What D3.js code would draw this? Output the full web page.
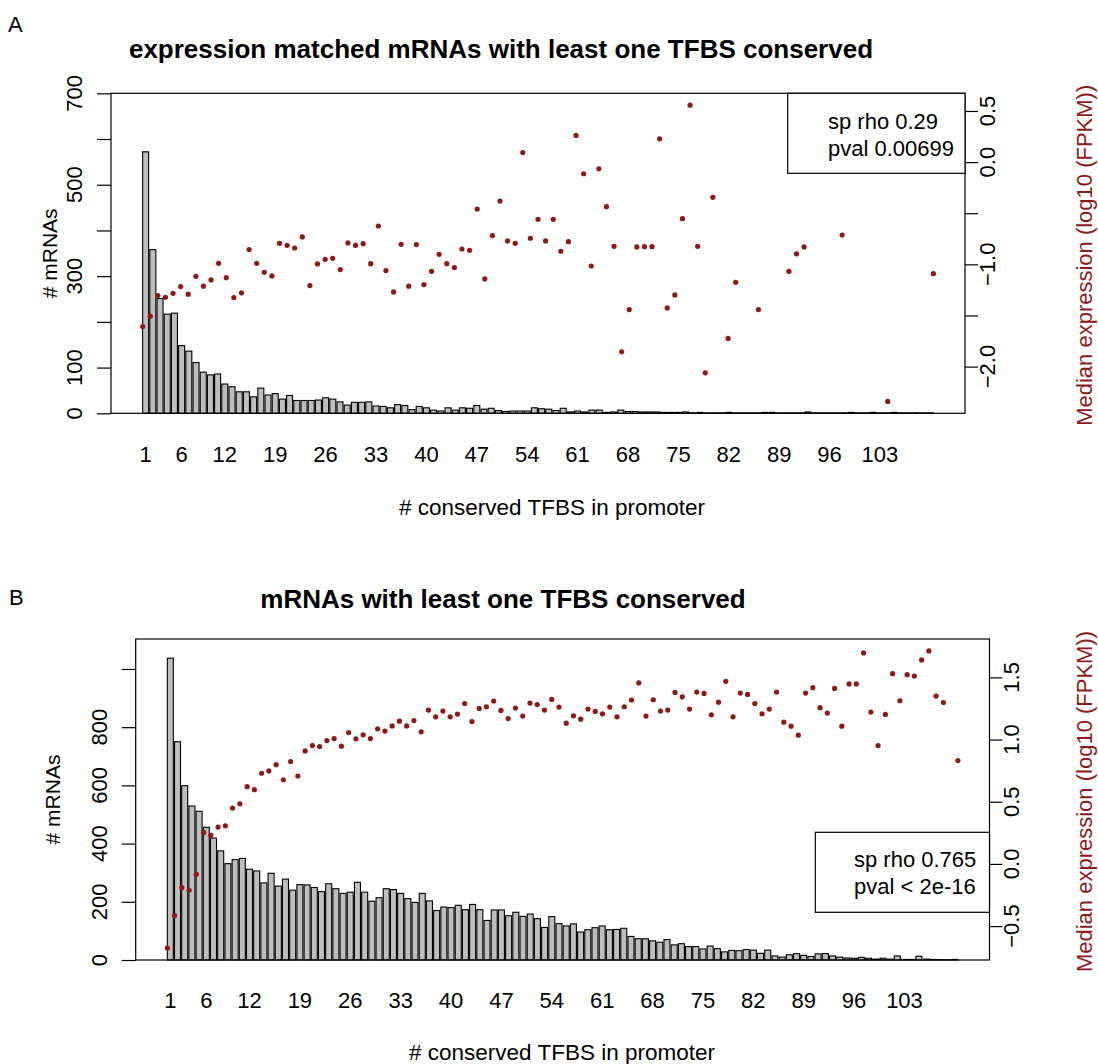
<!DOCTYPE html>
<html><head><meta charset="utf-8">
<script src="https://cdn.jsdelivr.net/npm/d3@7"></script>
<style>
body{margin:0;background:#fff}
text{font-family:"Liberation Sans",Arial,Helvetica,sans-serif;fill:#000}
</style>
</head><body>
<svg id="c" width="1098" height="1064"></svg>
<script>
// ---------- data ----------
const categories = d3.range(1, 111);            // # conserved TFBS in promoter (bars)
const xTickLabels = [1, 6, 12, 19, 26, 33, 40, 47, 54, 61, 68, 75, 82, 89, 96, 103];

const countsA = [
  572, 358, 251, 217, 219, 148, 136, 111, 90, 84,
  86, 64, 58, 47, 47, 36, 55, 40, 43, 31,
  39, 28, 28, 28, 29, 34, 31, 25, 18, 24,
  24, 25, 16, 15, 12, 19, 17, 8, 15, 12,
  7, 5, 12, 7, 12, 11, 17, 9, 11, 6,
  4, 5, 5, 5, 12, 10, 9, 6, 11, 3,
  5, 3, 7, 7, 2, 3, 7, 4, 4, 3,
  3, 3, 2, 2, 2, 3, 1, 2, 1, 1,
  1, 2, 1, 1, 1, 1, 2, 2, 1, 1,
  1, 1, 3, 1, 1, 1, 1, 1, 2, 1,
  1, 2, 1, 1, 2, 1, 1, 1, 1, 1
];
const exprA = [
  -1.608, -1.507, -1.305, -1.322, -1.283, -1.217, -1.292, -1.117, -1.214, -1.152,
  -0.990, -1.130, -1.325, -1.279, -0.856, -0.990, -1.078, -1.113, -0.794, -0.814,
  -0.840, -0.732, -1.208, -0.996, -0.951, -0.941, -1.051, -0.791, -0.814, -0.798,
  -0.993, -0.625, -1.061, -1.270, -0.804, -1.214, -0.807, -1.198, -1.068, -0.902,
  -0.993, -1.032, -0.850, -0.863, -0.459, -1.143, -0.719, -0.381, -0.771, -0.794,
  0.094, -0.745, -0.560, -0.771, -0.560, -0.872, -0.778, 0.261, -0.114, -1.016,
  -0.065, -0.436, -0.824, -1.855, -1.442, -0.830, -0.827, -0.827, 0.228, -1.426,
  -1.299, -0.553, 0.557, -0.824, -2.061, -0.345, null, -1.725, -1.175, null,
  null, -1.442, null, null, null, -1.068, -0.898, -0.830, null, null,
  null, null, -0.713, null, null, null, null, null, -2.341, null,
  null, -0.075, null, null, -1.091
];

const countsB = [
  1037, 750, 599, 529, 511, 456, 419, 375, 331, 345,
  349, 312, 306, 265, 298, 254, 278, 240, 259, 258,
  249, 235, 262, 245, 229, 233, 267, 233, 202, 214,
  245, 242, 229, 211, 198, 229, 203, 170, 182, 180,
  188, 173, 191, 173, 136, 172, 172, 152, 164, 150,
  158, 142, 112, 149, 125, 117, 124, 96, 104, 111,
  117, 104, 105, 109, 81, 73, 73, 66, 61, 70,
  52, 56, 46, 46, 38, 48, 39, 28, 33, 32,
  36, 34, 23, 34, 14, 10, 18, 22, 16, 12,
  21, 22, 14, 10, 7, 6, 9, 6, 3, 6,
  3, 14, 2, 2, 13, 3, 2, 1, 1, 2
];
const exprB = [
  -0.677, -0.416, -0.190, -0.212, -0.083, 0.253, 0.231, 0.296, 0.306, 0.449,
  0.484, 0.621, 0.597, 0.729, 0.748, 0.798, 0.677, 0.823, 0.707, 0.909,
  0.952, 0.944, 0.992, 1.008, 0.947, 1.056, 1.006, 1.038, 1.008, 1.086,
  1.068, 1.110, 1.148, 1.110, 1.153, 1.062, 1.237, 1.183, 1.229, 1.183,
  1.205, 1.290, 1.145, 1.250, 1.264, 1.310, 1.234, 1.169, 1.253, 1.189,
  1.293, 1.282, 1.237, 1.323, 1.261, 1.132, 1.191, 1.164, 1.245, 1.226,
  1.207, 1.261, 1.183, 1.264, 1.318, 1.455, 1.189, 1.320, 1.229, 1.237,
  1.379, 1.344, 1.245, 1.382, 1.371, 1.199, 1.301, 1.468, 1.183, 1.374,
  1.363, 1.290, 1.207, 1.245, 1.382, 1.140, 1.108, 1.035, 1.374, 1.417,
  1.256, 1.213, 1.411, 1.108, 1.447, 1.447, 1.697, 1.221, 0.952, 1.202,
  1.530, 1.312, 1.522, 1.511, 1.640, 1.713, 1.350, 1.298, null, 0.831
];

const leftTicksA = [0, 100, 200, 300, 400, 500, 600, 700];
const leftLabelsA = [0, 100, 300, 500, 700];
const rightTicksA = [-2, -1.5, -1, -0.5, 0, 0.5];
const rightLabelsA = [-2, -1, 0, 0.5];
const leftTicksB = [0, 200, 400, 600, 800, 1000];
const leftLabelsB = [0, 200, 400, 600, 800];
const rightTicksB = [-0.5, 0, 0.5, 1, 1.5];
const rightLabelsB = [-0.5, 0, 0.5, 1, 1.5];

const titles = ["expression matched mRNAs with least one TFBS conserved", "mRNAs with least one TFBS conserved"];
const legendA = ["sp rho 0.29", "pval 0.00699"];
const legendB = ["sp rho 0.765", "pval < 2e-16"];
const xTitle = "# conserved TFBS in promoter";
const yTitle = "# mRNAs";
const y2Title = "Median expression (log10 (FPKM))";

// ---------- drawing ----------
const svg = d3.select("#c");
const RED = "#8B1A1A";
const FONT = 22;

function fmt(v) {
  return v.toFixed(1).replace("-", "\u2212");
}

function panel(cfg) {
  const g = svg.append("g");
  const {l, r, t, b} = cfg.box;
  const n = cfg.counts.length;
  const span = 1.2 * n - 0.2;
  const xBar = d3.scaleLinear().domain([0.2 - 0.04 * span, 1.2 * n + 0.04 * span]).range([l, r]);
  const m = cfg.expr.length;
  const xPt = d3.scaleLinear().domain([1 - 0.04 * (m - 1), m + 0.04 * (m - 1)]).range([l, r]);
  const yL = d3.scaleLinear().domain(cfg.yLeftDomain).range([b, t]);
  const ext = d3.extent(cfg.expr.filter(v => v != null));
  const pad = 0.04 * (ext[1] - ext[0]);
  const yR = d3.scaleLinear().domain([ext[0] - pad, ext[1] + pad]).range([b, t]);

  // bars
  g.append("g").selectAll("rect").data(cfg.counts).join("rect")
    .attr("x", (d, i) => xBar(0.2 + 1.2 * i))
    .attr("width", (d, i) => xBar(1.2 + 1.2 * i) - xBar(0.2 + 1.2 * i))
    .attr("y", d => yL(d))
    .attr("height", d => yL(0) - yL(d))
    .attr("fill", "#bebebe").attr("stroke", "#000").attr("stroke-width", 1.1);

  // box
  g.append("rect").attr("x", l).attr("y", t).attr("width", r - l).attr("height", b - t)
    .attr("fill", "none").attr("stroke", "#000").attr("stroke-width", 1.2);

  // points
  g.append("g").selectAll("circle").data(cfg.expr.map((v, i) => ({v, i})).filter(d => d.v != null)).join("circle")
    .attr("cx", d => xPt(d.i + 1)).attr("cy", d => yR(d.v)).attr("r", 2.6).attr("fill", RED);

  // left axis
  const axL = g.append("g").attr("transform", `translate(${l},0)`)
    .call(d3.axisLeft(yL).tickValues(cfg.leftTicks).tickSize(14).tickFormat(""));
  axL.select(".domain").remove();
  axL.selectAll("line").attr("stroke-width", 1.2);
  g.append("g").selectAll("text").data(cfg.leftLabels).join("text")
    .attr("transform", d => `translate(${cfg.leftLabelX},${yL(d)}) rotate(-90)`)
    .attr("text-anchor", "middle").attr("font-size", FONT).text(d => String(d));

  // right axis
  const axR = g.append("g").attr("transform", `translate(${r},0)`)
    .call(d3.axisRight(yR).tickValues(cfg.rightTicks).tickSize(13).tickFormat(""));
  axR.select(".domain").remove();
  axR.selectAll("line").attr("stroke-width", 1.2);
  g.append("g").selectAll("text").data(cfg.rightLabels).join("text")
    .attr("transform", d => `translate(${cfg.rightLabelX},${yR(d)}) rotate(-90)`)
    .attr("text-anchor", "middle").attr("font-size", FONT).text(d => fmt(d));

  // x category labels (bar midpoints)
  g.append("g").selectAll("text").data(xTickLabels).join("text")
    .attr("x", d => xBar(0.7 + 1.2 * (categories.indexOf(d))))
    .attr("y", cfg.xLabelY).attr("text-anchor", "middle").attr("font-size", FONT).text(d => d);

  // titles
  g.append("text").attr("x", cfg.titleX).attr("y", cfg.titleY).attr("text-anchor", "middle")
    .attr("font-size", 26).attr("font-weight", "bold").text(cfg.title);
  g.append("text").attr("x", cfg.letterX).attr("y", cfg.letterY).attr("font-size", 22).text(cfg.letter);
  g.append("text").attr("x", cfg.xTitleX).attr("y", cfg.xTitleY).attr("text-anchor", "middle")
    .attr("font-size", 22.5).text(xTitle);
  g.append("text").attr("transform", `translate(${cfg.yTitleX},${(t + b) / 2}) rotate(-90)`)
    .attr("text-anchor", "middle").attr("font-size", 21).text(yTitle);
  g.append("text").attr("transform", `translate(${cfg.y2TitleX},${(t + b) / 2 + 2}) rotate(-90)`)
    .attr("text-anchor", "middle").attr("font-size", 22).style("fill", RED).text(y2Title);

  // legend
  const L = cfg.legend;
  g.append("rect").attr("x", L.x).attr("y", L.y).attr("width", r - L.x).attr("height", L.h)
    .attr("fill", "#fff").attr("stroke", "#000").attr("stroke-width", 1.2);
  g.append("g").selectAll("text").data(L.lines).join("text")
    .attr("x", L.tx).attr("y", (d, i) => L.ty + i * 27).attr("font-size", FONT).text(d => d);
}

panel({
  box: {l: 111, r: 965, t: 93.3, b: 413.3},
  counts: countsA, expr: exprA, yLeftDomain: [0, 700],
  leftTicks: leftTicksA, leftLabels: leftLabelsA, rightTicks: rightTicksA, rightLabels: rightLabelsA,
  leftLabelX: 82, rightLabelX: 995, xLabelY: 461.5,
  title: titles[0], titleX: 501, titleY: 58, letter: "A", letterX: 8, letterY: 32,
  xTitleX: 552, xTitleY: 515, yTitleX: 57, y2TitleX: 1092,
  legend: {x: 787.7, y: 93.3, h: 80, tx: 828, ty: 129, lines: legendA}
});

panel({
  box: {l: 135.7, r: 989.5, t: 639, b: 960},
  counts: countsB, expr: exprB, yLeftDomain: [0, 1103],
  leftTicks: leftTicksB, leftLabels: leftLabelsB, rightTicks: rightTicksB, rightLabels: rightLabelsB,
  leftLabelX: 107, rightLabelX: 1019, xLabelY: 1008,
  title: titles[1], titleX: 503, titleY: 608, letter: "B", letterX: 9, letterY: 605,
  xTitleX: 562, xTitleY: 1060, yTitleX: 60, y2TitleX: 1092,
  legend: {x: 815.3, y: 832.3, h: 80, tx: 854, ty: 867, lines: legendB}
});
</script>
</body></html>
